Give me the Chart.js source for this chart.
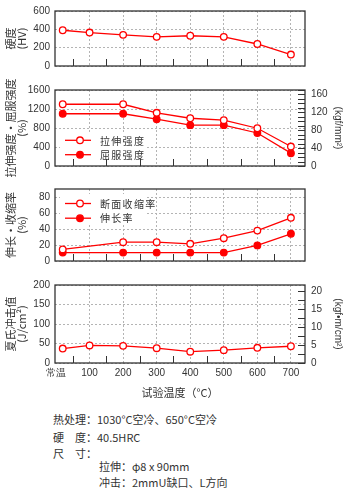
<!DOCTYPE html>
<html><head><meta charset="utf-8">
<script src="https://cdn.jsdelivr.net/npm/chart.js@4/dist/chart.umd.min.js"></script>
<style>
html,body{margin:0;padding:0;background:#fff;}
body{width:350px;height:491px;position:relative;overflow:hidden;font-family:'Noto Sans CJK SC','Noto Sans',sans-serif;color:#333;}
canvas{position:absolute;left:0;}
.note{position:absolute;font-size:11px;line-height:14px;white-space:nowrap;color:#333;}
</style></head><body>
<canvas id="c1" width="350" height="77" style="top:0px"></canvas>
<canvas id="c2" width="350" height="100" style="top:78px"></canvas>
<canvas id="c3" width="350" height="94" style="top:178px"></canvas>
<canvas id="c4" width="350" height="126" style="top:273px"></canvas>
<div class="note" style="left:53px;top:412px">热处理：1030°C空冷、650°C空冷</div>
<div class="note" style="left:53px;top:429.5px">硬　度：40.5HRC</div>
<div class="note" style="left:53px;top:445.5px">尺　寸：</div>
<div class="note" style="left:99px;top:459px">拉伸：φ8 x 90mm</div>
<div class="note" style="left:99px;top:474.5px">冲击：2mmU缺口、L方向</div>
<script>
// ---- data ----
const tickValues = [0, 100, 200, 300, 400, 500, 600, 700];
const tickLabels = ['常温', '100', '200', '300', '400', '500', '600', '700'];
const minorXTicks = [50, 150, 250, 350, 450, 550, 650];
const hvTicks = [0, 200, 400, 600];
const strengthTicks = [0, 400, 800, 1200, 1600];
const strengthKgfTicks = [0, 40, 80, 120, 160];
const pctTicks = [0, 20, 40, 60, 80];
const impactTicks = [0, 50, 100, 150, 200];
const impactKgfTicks = [0, 5, 10, 15, 20];
const tempsAll = [20, 100, 200, 300, 400, 500, 600, 700];
const tempsNo100 = [20, 200, 300, 400, 500, 600, 700];
const hardnessHV = [390, 365, 340, 318, 330, 318, 240, 125];
const tensileStrength = [1300, 1300, 1120, 1005, 965, 795, 410];
const yieldStrength = [1100, 1100, 985, 860, 860, 695, 270];
const reductionOfArea = [14.5, 23.5, 23.5, 21.5, 28.5, 38, 54];
const elongation = [10.5, 10.5, 10.5, 10.5, 10.5, 19.5, 34];
const charpyImpact = [37, 45, 44, 38, 29, 33, 39, 43];

// ---- style ----
const RED = '#ff0000';
const GRID = '#b4b4b4';
const INK = '#333333';
const NUM_FONT = {family: "'Liberation Sans', Arial, sans-serif", size: 10};
const CJK = "'Noto Sans CJK SC', 'Noto Sans', sans-serif";
const X_MIN = -3, X_MAX = 742;

function pts(xs, ys) { return xs.map((x, i) => ({x: x, y: ys[i]})); }
function series(label, xs, ys, filled) {
  return {
    label: label, data: pts(xs, ys),
    borderColor: RED, borderWidth: 1.3, tension: 0, fill: false,
    pointRadius: 3.3, pointBorderWidth: 1.3, pointBorderColor: RED,
    pointBackgroundColor: filled ? RED : '#ffffff'
  };
}
function fixedTicks(list) { return s => { s.ticks = list.map(v => ({value: v})); }; }

const decoPlugin = {
  id: 'deco',
  afterDatasetsDraw(chart, args, opts) {
    const lg = opts.legend;
    if (!lg) return;
    const {ctx, chartArea: a} = chart;
    ctx.save();
    ctx.fillStyle = '#ffffff';
    ctx.fillRect(a.left + lg.boxX, a.top + lg.boxY, lg.boxW, lg.boxH);
    chart.data.datasets.forEach((ds, i) => {
      const y = a.top + lg.rows[i];
      ctx.strokeStyle = ds.borderColor; ctx.lineWidth = ds.borderWidth;
      ctx.beginPath(); ctx.moveTo(a.left + 10, y); ctx.lineTo(a.left + 36, y); ctx.stroke();
      ctx.beginPath(); ctx.arc(a.left + 25, y, ds.pointRadius, 0, Math.PI * 2);
      ctx.fillStyle = ds.pointBackgroundColor; ctx.fill();
      ctx.lineWidth = ds.pointBorderWidth; ctx.strokeStyle = ds.pointBorderColor; ctx.stroke();
      ctx.fillStyle = INK;
      ctx.font = '10px ' + CJK;
      ctx.letterSpacing = '1.3px';
      ctx.textBaseline = 'middle'; ctx.textAlign = 'left';
      ctx.fillText(ds.label, a.left + 45, y + 0.5);
    });
    ctx.restore();
  },
  afterDraw(chart, args, opts) {
    const {ctx, chartArea: a, scales} = chart;
    ctx.save();
    ctx.strokeStyle = INK; ctx.lineWidth = 1;
    ctx.beginPath();
    minorXTicks.forEach(v => {
      const px = Math.round(scales.x.getPixelForValue(v)) + 0.5;
      ctx.moveTo(px, a.bottom); ctx.lineTo(px, a.bottom - 7);
    });
    if (opts.rightStep && scales.y2) {
      const s = scales.y2;
      for (let v = 0; v <= s.max + 1e-9; v += opts.rightStep) {
        const py = Math.round(s.getPixelForValue(v)) + 0.5;
        ctx.moveTo(a.right, py); ctx.lineTo(a.right - 7, py);
      }
    }
    ctx.stroke();
    ctx.lineWidth = 1.3;
    ctx.strokeRect(a.left, a.top, a.right - a.left, a.bottom - a.top);
    ctx.restore();
  }
};

function makeChart(id, cfg) {
  const scales = {
    x: {
      type: 'linear', min: X_MIN, max: X_MAX,
      afterBuildTicks: fixedTicks(tickValues),
      afterFit: s => { s.height = cfg.xHeight; },
      grid: {drawTicks: false, lineWidth: 1, color: c => (c.tick && c.tick.value === 0) ? 'rgba(0,0,0,0)' : GRID},
      border: {display: false, dash: [2, 2]},
      ticks: {display: !!cfg.showX, padding: 4, color: INK, font: NUM_FONT, maxRotation: 0, autoSkip: false,
        callback: (v, i) => tickLabels[i]},
      title: {display: !!cfg.showX, text: '试验温度（°C）', color: INK, font: {family: CJK, size: 11}, padding: {top: 0, bottom: 0}}
    },
    y: {
      position: 'left', min: 0, max: cfg.yMax,
      afterFit: s => { s.width = 55; },
      afterBuildTicks: fixedTicks(cfg.yTicks),
      ticks: {padding: 5, color: INK, font: NUM_FONT, autoSkip: false, callback: v => String(v)},
      grid: {drawTicks: false, color: GRID, lineWidth: 1},
      border: {display: false, dash: [2, 2]},
      title: {display: true, text: cfg.yTitle, color: INK, font: {family: CJK, size: 11, lineHeight: 1}, padding: {top: 5.5, bottom: 0}}
    }
  };
  if (cfg.y2) {
    scales.y2 = {
      position: 'right', min: 0, max: cfg.y2.max,
      afterFit: s => { s.width = 45; },
      afterBuildTicks: fixedTicks(cfg.y2.ticks),
      ticks: {padding: 6, color: INK, font: NUM_FONT, autoSkip: false, callback: v => String(v)},
      grid: {drawOnChartArea: false, drawTicks: false},
      border: {display: false},
      title: {display: true, text: cfg.y2.title, color: INK, font: {family: NUM_FONT.family, size: 10, lineHeight: 1}, padding: {top: 7, bottom: 0}}
    };
  }
  return new Chart(document.getElementById(id), {
    type: 'line',
    data: {datasets: cfg.datasets},
    options: {
      responsive: false, animation: false, events: [],
      layout: {padding: {top: cfg.padTop, bottom: cfg.padBottom, left: 0, right: cfg.y2 ? 0 : 45}},
      plugins: {legend: {display: false}, tooltip: {enabled: false}, deco: cfg.deco || {}},
      scales: scales
    },
    plugins: [decoPlugin]
  });
}

makeChart('c1', {
  padTop: 9, padBottom: 8, xHeight: 0,
  yMax: 600, yTicks: hvTicks, yTitle: ['硬度', '(HV)'],
  datasets: [series('硬度', tempsAll, hardnessHV, false)]
});
makeChart('c2', {
  padTop: 10, padBottom: 10, xHeight: 0,
  yMax: 1600, yTicks: strengthTicks, yTitle: ['拉伸强度・屈服强度', '(%)'],
  y2: {max: 170, ticks: strengthKgfTicks, title: '(kgf/mm²)'},
  deco: {rightStep: 10, legend: {boxX: 5, boxY: 42, boxW: 87, boxH: 33, rows: [50.3, 64.7]}},
  datasets: [series('拉伸强度', tempsNo100, tensileStrength, false), series('屈服强度', tempsNo100, yieldStrength, true)]
});
makeChart('c3', {
  padTop: 9, padBottom: 8, xHeight: 0,
  yMax: 90, yTicks: pctTicks, yTitle: ['伸长・收缩率', '(%)'],
  deco: {legend: {boxX: 5, boxY: 5, boxW: 87, boxH: 31, rows: [14.5, 29.2]}},
  datasets: [series('断面收缩率', tempsNo100, reductionOfArea, false), series('伸长率', tempsNo100, elongation, true)]
});
makeChart('c4', {
  padTop: 9, padBottom: 0, xHeight: 36, showX: true,
  yMax: 200, yTicks: impactTicks, yTitle: ['夏氏冲击值', '(J/cm²)'],
  y2: {max: 21.8, ticks: impactKgfTicks, title: '(kgf•m/cm²)'},
  deco: {rightStep: 2.5},
  datasets: [series('夏氏冲击值', tempsAll, charpyImpact, false)]
});
</script>
</body></html>
